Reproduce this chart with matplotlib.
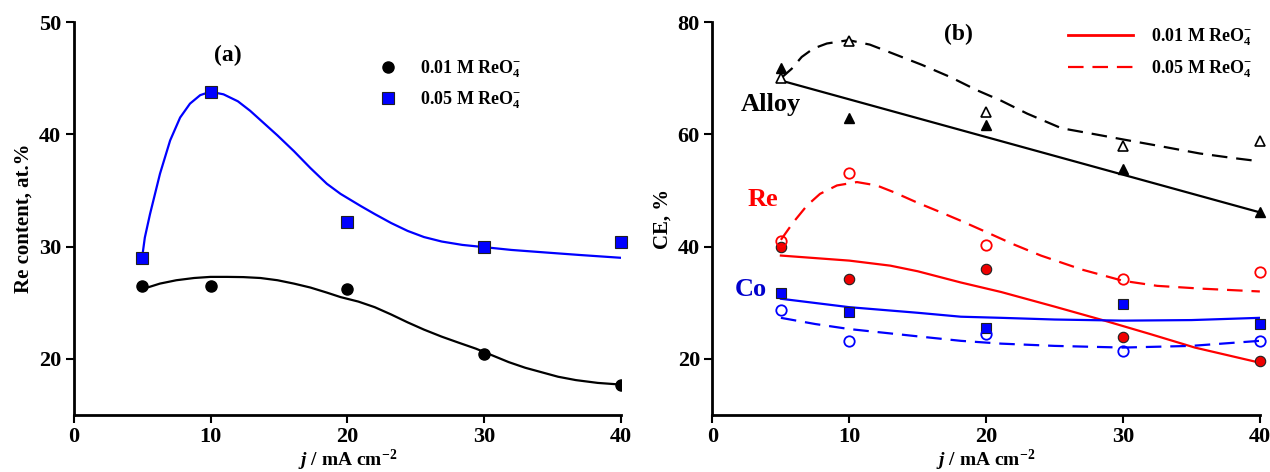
import matplotlib
matplotlib.use('Agg')
import matplotlib.pyplot as plt
from matplotlib.lines import Line2D

plt.rcParams['font.family'] = ['Liberation Serif', 'DejaVu Serif']
plt.rcParams['font.weight'] = 'bold'
plt.rcParams['mathtext.fontset'] = 'custom'
plt.rcParams['mathtext.rm'] = 'Liberation Serif:bold'
plt.rcParams['mathtext.it'] = 'Liberation Serif:italic:bold'
plt.rcParams['mathtext.bf'] = 'Liberation Serif:bold'

# current density, mA cm-2
j = [5, 10, 20, 30, 40]

# panel (a): Re content, at.%
re_001 = [26.45, 26.45, 26.2, 20.4, 17.7]
re_005 = [29.0, 43.8, 32.2, 30.0, 30.4]

# fitted curves
fit_a_x_005 = [5, 5.2, 5.58, 6.31, 7.05, 7.78, 8.5, 9.25, 10, 10.95, 12.0, 12.9, 13.9, 14.9, 16.1, 17.3,
               18.5, 19.5, 21, 22, 23.2, 24.4, 25.6, 26.9, 28.4, 30, 32, 34.2, 37, 40]
fit_a_y_005 = [29.0, 30.8, 32.9, 36.5, 39.46, 41.5, 42.74, 43.5, 43.8, 43.57, 42.95, 42.1, 41.0, 39.9, 38.5, 37.0,
               35.6, 34.7, 33.6, 32.9, 32.1, 31.4, 30.85, 30.45, 30.15, 29.95, 29.7, 29.5, 29.25, 29.0]
fit_a_x_001 = [5, 6.3, 7.5, 8.8, 10, 11.2, 12.4, 13.65, 14.9, 16.1, 17.3, 18.5, 19.5, 20.8, 22, 23.2,
               24.4, 25.6, 26.9, 28.1, 29.4, 30.6, 31.8, 33, 34.2, 35.4, 36.7, 38.3, 40]
fit_a_y_001 = [26.2, 26.7, 27.0, 27.2, 27.3, 27.3, 27.28, 27.2, 27.0, 26.7, 26.35, 25.9, 25.5, 25.1, 24.6,
               23.95, 23.25, 22.6, 21.97, 21.45, 20.9, 20.3, 19.7, 19.2, 18.8, 18.4, 18.1, 17.85, 17.7]

# panel (b): current efficiency, %
alloy_001 = [71.8, 63.0, 61.6, 53.75, 46.1]
alloy_005 = [70.0, 76.7, 64.0, 58.0, 58.9]
re_ce_001 = [40.0, 34.2, 36.0, 23.9, 19.6]
re_ce_005 = [41.0, 53.2, 40.2, 34.2, 35.5]
co_ce_001 = [31.8, 28.4, 25.5, 29.8, 26.2]
co_ce_005 = [28.7, 23.2, 24.5, 21.4, 23.2]

fit_alloy_x_001 = [5, 40]
fit_alloy_y_001 = [69.6, 46.1]
fit_alloy_x_005 = [5, 5.79, 6.52, 7.37, 8.36, 9.95, 11.5, 13.2, 15.3, 17.4, 19.3, 21.1, 23, 25.5,
                   28, 30, 32.5, 35.6, 38, 40]
fit_alloy_y_005 = [70.0, 71.7, 73.8, 75.3, 76.2, 76.8, 76.0, 74.4, 72.4, 70.2, 67.9, 66.0, 63.7, 61.1,
                   60.0, 59.1, 58.0, 56.6, 55.8, 55.2]
fit_re_x_001 = [5, 10, 13, 15, 18.15, 21.1, 25, 28.65, 32, 35.25, 40]
fit_re_y_001 = [38.4, 37.5, 36.6, 35.6, 33.6, 31.9, 29.3, 26.8, 24.4, 22.0, 19.3]
fit_re_x_005 = [5, 5.9, 6.9, 7.86, 9.1, 10.56, 12.0, 13.25, 15, 16.6, 18.15, 20, 22, 24, 27, 30,
                32.5, 35.75, 40]
fit_re_y_005 = [41.2, 44.3, 47.3, 49.4, 50.9, 51.5, 50.9, 49.7, 47.8, 46.2, 44.6, 42.6, 40.4, 38.4,
                35.9, 33.9, 33.0, 32.5, 32.0]
fit_co_x_001 = [5, 10, 15, 18.15, 21.1, 25, 30, 35, 40]
fit_co_y_001 = [30.7, 29.2, 28.2, 27.5, 27.3, 27.0, 26.8, 26.9, 27.3]
fit_co_x_005 = [5, 7.5, 10, 15, 18.15, 21.1, 25, 30, 35, 40]
fit_co_y_005 = [27.3, 26.2, 25.3, 24.0, 23.2, 22.7, 22.3, 22.0, 22.3, 23.2]

fig = plt.figure(figsize=(12.7, 4.72), dpi=100)
ax_a = fig.add_axes([0.058, 0.121, 0.431, 0.832])
ax_b = fig.add_axes([0.561, 0.121, 0.431, 0.832])


def style_axis(ax, ylim, yticks, ylabel):
    ax.set_xlim(0, 40)
    ax.set_ylim(*ylim)
    ax.set_xticks([0, 10, 20, 30, 40])
    ax.set_yticks(yticks)
    for s in ['top', 'right']:
        ax.spines[s].set_visible(False)
    for s in ['left', 'bottom']:
        ax.spines[s].set_linewidth(2)
    ax.tick_params(direction='out', length=6, width=1.5, labelsize=16, pad=3)
    for lbl in ax.get_xticklabels() + ax.get_yticklabels():
        lbl.set_fontweight('bold')
    ax.set_ylabel(ylabel, fontsize=15, fontweight='bold', labelpad=4)
    ax.set_xlabel(r'$j$ / mA cm$^{-2}$', fontsize=14, fontweight='bold', labelpad=0)


sub4 = r'ReO$_4^{-}$'

# ---- panel (a)
ax_a.plot(fit_a_x_005, fit_a_y_005, color='#0000ff', lw=1.6)
ax_a.plot(fit_a_x_001, fit_a_y_001, color='black', lw=1.6)
ax_a.plot(j, re_001, 'o', color='black', ms=8, label='0.01 M ' + sub4)
ax_a.plot(j, re_005, 's', color='#0000ff', mec='#202020', mew=0.8, ms=8,
          label='0.05 M ' + sub4, clip_on=False)
style_axis(ax_a, (15, 50), [20, 30, 40, 50], 'Re content, at.%')
ax_a.text(11.3, 47.0, '(a)', fontsize=17, fontweight='bold', ha='center', va='center')
ax_a.legend(loc='upper left', bbox_to_anchor=(0.52, 0.95), frameon=False,
            fontsize=13, handletextpad=1.0, labelspacing=0.55, handlelength=1.5)

# ---- panel (b)
ax_b.plot(fit_alloy_x_001, fit_alloy_y_001, color='black', lw=1.6)
ax_b.plot(fit_alloy_x_005, fit_alloy_y_005, color='black', lw=1.6, dashes=(7, 4))
ax_b.plot(fit_re_x_001, fit_re_y_001, color='#ff0000', lw=1.6)
ax_b.plot(fit_re_x_005, fit_re_y_005, color='#ff0000', lw=1.6, dashes=(7, 4))
ax_b.plot(fit_co_x_001, fit_co_y_001, color='#0000ff', lw=1.6)
ax_b.plot(fit_co_x_005, fit_co_y_005, color='#0000ff', lw=1.6, dashes=(7, 4))

mk = dict(ms=7.5, clip_on=False, lw=0)
ax_b.plot(j, alloy_001, '^', color='black', **mk)
ax_b.plot(j, alloy_005, '^', mfc='white', mec='black', mew=1.2, **mk)
ax_b.plot(j, re_ce_001, 'o', mfc='#ee0000', mec='#202020', mew=0.8, **mk)
ax_b.plot(j, re_ce_005, 'o', mfc='none', mec='#ff0000', mew=1.3, **mk)
ax_b.plot(j, co_ce_001, 's', mfc='#0000ff', mec='#202020', mew=0.8, **mk)
ax_b.plot(j, co_ce_005, 'o', mfc='none', mec='#0000ff', mew=1.3, **mk)

style_axis(ax_b, (10, 80), [20, 40, 60, 80], 'CE, %')
ax_b.text(18.0, 77.8, '(b)', fontsize=17, fontweight='bold', ha='center', va='center')
ax_b.text(2.1, 65.3, 'Alloy', fontsize=19, fontweight='bold', color='black', va='center')
ax_b.text(2.6, 48.4, 'Re', fontsize=19, fontweight='bold', color='#ff0000', va='center')
ax_b.text(1.6, 32.4, 'Co', fontsize=19, fontweight='bold', color='#0000cc', va='center')

handles_b = [Line2D([], [], color='#ff0000', lw=2),
             Line2D([], [], color='#ff0000', lw=1.6, dashes=(7, 4))]
ax_b.legend(handles_b, ['0.01 M ' + sub4, '0.05 M ' + sub4], loc='upper left',
            bbox_to_anchor=(0.62, 1.03), frameon=False, fontsize=13,
            handlelength=3.6, handletextpad=1.0, labelspacing=0.55)

fig.savefig('out.png', dpi=100)
